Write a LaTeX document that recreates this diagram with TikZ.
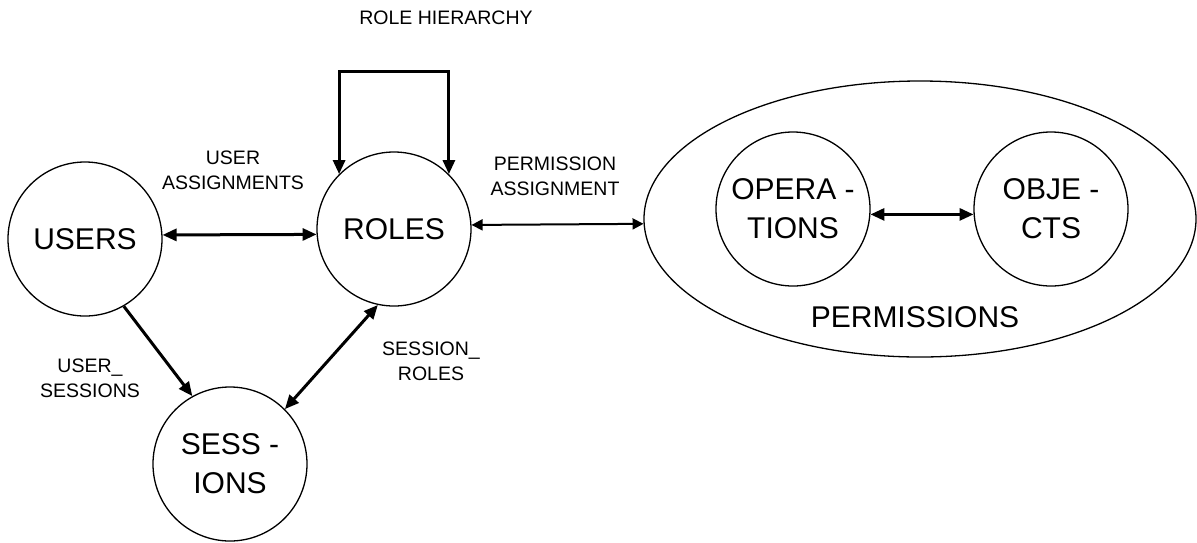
\documentclass[tikz,border=0pt]{standalone}
\usepackage{fontspec}
\setmainfont{Liberation Sans}
\usetikzlibrary{arrows.meta, shapes.geometric}

\begin{document}
\begin{tikzpicture}[x=1pt, y=-1pt,
    >={Triangle[length=14pt,width=12pt]},
    main/.style = {draw, circle, line width=1.3pt, minimum size=154pt, inner sep=0pt, align=center, font=\fontsize{30}{39}\selectfont},
    lbl/.style = {align=center, font=\fontsize{19.5}{25}\selectfont},
    link/.style = {line width=3pt}]
            \useasboundingbox (0,0) rectangle (1197,542);

            \node[main] (U) at (85,239) {USERS};
            \node[main] (R) at (394,229) {ROLES};
            \node[main] (S) at (230,464) {SESS -\\IONS};
            \node[draw, ellipse, line width=1.3pt, minimum width=552pt, minimum height=276pt] (P) at (920,219) {};
            \node[main] (Op) at (793,209) {OPERA -\\TIONS};
            \node[main] (Ob) at (1051,209) {OBJE -\\CTS};
            \node[font=\fontsize{30}{39}\selectfont] (PT) at (915,317) {PERMISSIONS};

            \coordinate (top) at (394,71);
            \draw[link, <->] (R.135) -- (R.135 |- top) -- (R.45 |- top) -- (R.45);
            \node[lbl] (RH) at (446,18) {ROLE HIERARCHY};

            \draw[link, <->] (U.3) -- (R.184);
            \node[lbl] (UA) at (233,170) {USER\\ASSIGNMENTS};

            \draw[line width=2pt, {Triangle[length=11pt,width=11pt]}-{Triangle[length=11pt,width=11pt]}] (R.3) -- (P.181);
            \node[lbl] (PA) at (555,176) {PERMISSION\\ASSIGNMENT};

            \draw[link, <->] (Op.-4) -- (Ob.184);

            \draw[link, ->] (U.-60) -- (S.119);
            \node[lbl] (US) at (90,378) {USER\_\\SESSIONS};

            \draw[link, <->] (R.258) -- (S.45);
            \node[lbl] (SR) at (431,361) {SESSION\_\\ROLES};
        \end{tikzpicture}
\end{document}
